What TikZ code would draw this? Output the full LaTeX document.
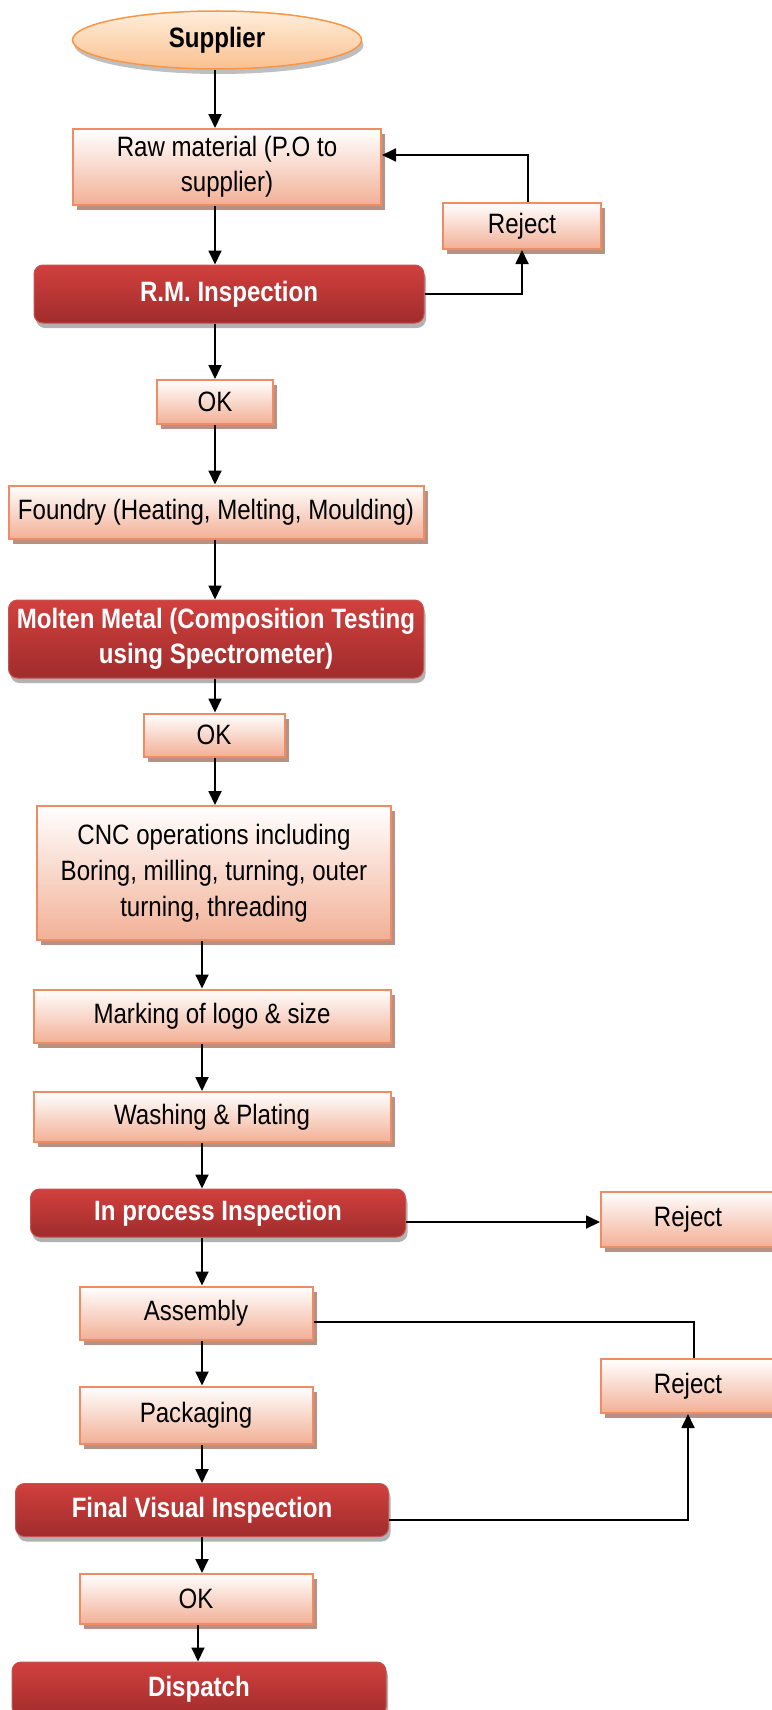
\documentclass[tikz,border=0pt]{standalone}
\usepackage{fontspec}
\setmainfont[FakeStretch=0.86]{Liberation Sans}
\usetikzlibrary{arrows.meta,shapes.geometric,shadows}

\definecolor{boxedge}{RGB}{240,140,100}
\definecolor{boxlow}{RGB}{242,176,150}
\definecolor{boxshade}{RGB}{183,146,132}
\definecolor{redtop}{RGB}{209,64,62}
\definecolor{redlow}{RGB}{160,44,44}
\definecolor{rededge}{RGB}{196,84,80}
\definecolor{peachtop}{RGB}{255,238,220}
\definecolor{peachlow}{RGB}{250,192,143}
\definecolor{peachedge}{RGB}{247,150,70}

\begin{document}
\begin{tikzpicture}[x=1pt,y=-1pt,
  lite/.style={draw=boxedge,line width=2pt,top color=white,bottom color=boxlow,
    drop shadow={shadow xshift=4pt,shadow yshift=-5pt,fill=boxshade,opacity=1},
    inner sep=0pt,align=center,font=\fontsize{28}{35}\selectfont},
  insp/.style={draw=rededge,line width=1pt,rounded corners=9pt,
    top color=redtop,bottom color=redlow,
    drop shadow={shadow xshift=2pt,shadow yshift=-5pt,fill=black,opacity=0.3},
    inner sep=0pt,align=center,text=white,font=\fontsize{28}{35}\selectfont\bfseries},
  arr/.style={line width=1.8pt,-{Triangle[length=14pt,width=13pt]}},
  link/.style={line width=1.8pt}]

\useasboundingbox (0,0) rectangle (771,1710);

\path (217,40) node[ellipse,draw=peachedge,line width=1.5pt,top color=peachtop,bottom color=peachlow,
  drop shadow={shadow xshift=2pt,shadow yshift=-5pt,fill=black,opacity=0.25},
  minimum width=289pt,minimum height=58pt,inner sep=0pt,font=\fontsize{28}{35}\selectfont\bfseries] (sup) {Supplier};
\path (227,167)  node[lite,minimum width=308pt,minimum height=76pt] (raw) {Raw material (P.O to\\supplier)};
\path (522,226)  node[lite,minimum width=158pt,minimum height=46pt] (rej1) {Reject};
\path (229,294)  node[insp,minimum width=390pt,minimum height=58pt] (rmi) {R.M. Inspection};
\path (215,402)  node[lite,minimum width=116pt,minimum height=44pt] (ok1) {OK};
\path (216,512)  node[lite,minimum width=415pt,minimum height=53pt] (fdy) {Foundry (Heating, Melting, Moulding)};
\path (216,639)  node[insp,minimum width=415pt,minimum height=78pt] (mlt) {Molten Metal (Composition Testing\\using Spectrometer)};
\path (214,735)  node[lite,minimum width=141pt,minimum height=43pt] (ok2) {OK};
\path (214,873)  node[lite,minimum width=354pt,minimum height=134pt,font=\fontsize{28}{36}\selectfont] (cnc)
  {CNC operations including\\Boring, milling, turning, outer\\turning, threading};
\path (212,1016) node[lite,minimum width=357pt,minimum height=53pt] (mrk) {Marking of logo \& size};
\path (212,1117) node[lite,minimum width=357pt,minimum height=50pt] (wsh) {Washing \& Plating};
\path (218,1213) node[insp,minimum width=375pt,minimum height=48pt] (ipi) {In process Inspection};
\path (688,1219) node[lite,minimum width=174pt,minimum height=55pt] (rej2) {Reject};
\path (196,1313) node[lite,minimum width=233pt,minimum height=53pt] (asm) {Assembly};
\path (688,1386) node[lite,minimum width=174pt,minimum height=54pt] (rej3) {Reject};
\path (196,1415) node[lite,minimum width=233pt,minimum height=57pt] (pkg) {Packaging};
\path (202,1510) node[insp,minimum width=373pt,minimum height=53pt] (fvi) {Final Visual Inspection};
\path (196,1599) node[lite,minimum width=233pt,minimum height=50pt] (ok3) {OK};
\path (199,1689) node[insp,minimum width=374pt,minimum height=54pt] (dsp) {Dispatch};

% main line
\coordinate (top) at (215,0);
\coordinate (low) at (202,0);
\draw[arr] (top |- sup.south) to (top |- raw.north);
\draw[arr] (top |- raw.south) to (top |- rmi.north);
\draw[arr] (top |- rmi.south) to (top |- ok1.north);
\draw[arr] (top |- ok1.south) to (top |- fdy.north);
\draw[arr] (top |- fdy.south) to (top |- mlt.north);
\draw[arr] (top |- mlt.south) to (top |- ok2.north);
\draw[arr] (top |- ok2.south) to (top |- cnc.north);
\draw[arr] (low |- cnc.south) to (low |- mrk.north);
\draw[arr] (low |- mrk.south) to (low |- wsh.north);
\draw[arr] (low |- wsh.south) to (low |- ipi.north);
\draw[arr] (low |- ipi.south) to (low |- asm.north);
\draw[arr] (low |- asm.south) to (low |- pkg.north);
\draw[arr] (low |- pkg.south) to (low |- fvi.north);
\draw[arr] (low |- fvi.south) to (low |- ok3.north);
\draw[arr] ([xshift=-4pt]low |- ok3.south) to ([xshift=-4pt]low |- dsp.north);

% reject loops
\draw[arr] (rmi.east) -| (rej1.south);
\draw[arr] ([xshift=6pt]rej1.north) |- ([yshift=12pt]raw.east);
\draw[arr] ([yshift=-3pt]rej2.west -| ipi.east) to ([yshift=-3pt]rej2.west);
\draw[link] ([yshift=-9pt]asm.east) -| ([xshift=6pt]rej3.north);
\draw[arr] ([yshift=-10pt]fvi.east) -| (rej3.south);
\end{tikzpicture}
\end{document}
